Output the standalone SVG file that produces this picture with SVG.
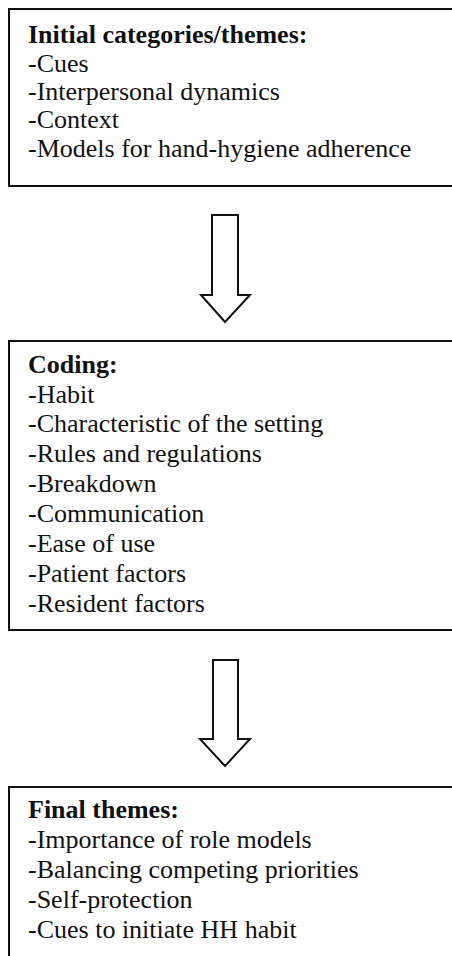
<svg xmlns="http://www.w3.org/2000/svg" width="452" height="956" viewBox="0 0 452 956">
<style>
.box{fill:#fff;stroke:#111;stroke-width:2}
.arrow{fill:#fff;stroke:#111;stroke-width:2;stroke-linejoin:miter}
text{font-family:"Liberation Serif","Times New Roman",serif;font-size:26px;fill:#111}
.h{font-weight:bold}
</style>
<rect width="452" height="956" fill="#fff"/>
<g id="node-initial">
<rect class="box" x="9" y="9" width="460" height="177"/>
<text x="28" y="43" class="h">Initial categories/themes:</text>
<text x="28" y="72">-Cues</text>
<text x="28" y="100">-Interpersonal dynamics</text>
<text x="28" y="128">-Context</text>
<text x="28" y="157">-Models for hand-hygiene adherence</text>
</g>
<g id="node-coding">
<rect class="box" x="9" y="341" width="460" height="289"/>
<text x="28" y="373" class="h">Coding:</text>
<text x="28" y="403">-Habit</text>
<text x="28" y="432">-Characteristic of the setting</text>
<text x="28" y="462">-Rules and regulations</text>
<text x="28" y="492">-Breakdown</text>
<text x="28" y="522">-Communication</text>
<text x="28" y="552">-Ease of use</text>
<text x="28" y="582">-Patient factors</text>
<text x="28" y="612">-Resident factors</text>
</g>
<g id="node-final">
<rect class="box" x="9" y="787" width="460" height="200"/>
<text x="28" y="818" class="h">Final themes:</text>
<text x="28" y="848">-Importance of role models</text>
<text x="28" y="878">-Balancing competing priorities</text>
<text x="28" y="908">-Self-protection</text>
<text x="28" y="938">-Cues to initiate HH habit</text>
</g>
<g id="connectors">
<path class="arrow" d="M212,215 H238 V295 H250 L225,322 L201,295 H212 Z"/>
<path class="arrow" d="M213,660 H238 V739 H250 L225,766 L200,739 H213 Z"/>
</g>
</svg>
